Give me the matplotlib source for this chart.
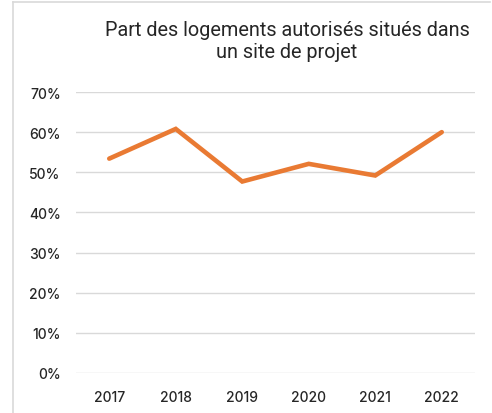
import matplotlib.pyplot as plt
from matplotlib.lines import Line2D
from matplotlib.ticker import PercentFormatter

# Share of authorised housing units located in a project site
years = ['2017', '2018', '2019', '2020', '2021', '2022']
share = [0.534, 0.608, 0.477, 0.521, 0.492, 0.600]
yticks = [0.0, 0.1, 0.2, 0.3, 0.4, 0.5, 0.6, 0.7]

title = 'Part des logements autorisés situés dans\nun site de projet'

fig = plt.figure(figsize=(4.92, 4.14), dpi=100)
ax = fig.add_axes([76 / 492, 1 - 374 / 414, 399 / 492, 281 / 414])

ax.plot(range(len(years)), share, color='#E97A33', linewidth=3.3,
        solid_capstyle='round', solid_joinstyle='miter', zorder=3)

ax.set_xlim(-0.5, len(years) - 0.5)
ax.set_ylim(0, 0.7)
ax.set_yticks(yticks)
ax.yaxis.set_major_formatter(PercentFormatter(1.0, decimals=0))
ax.set_xticks(range(len(years)))
ax.set_xticklabels(years)
ax.grid(axis='y', color='#d9d9d9', linewidth=1.0)
ax.set_axisbelow(True)
for s in ax.spines.values():
    s.set_visible(False)
ax.tick_params(length=0, labelsize=10, labelcolor='#262626')
ax.tick_params(axis='y', pad=11)
ax.tick_params(axis='x', pad=12)
for lab in ax.get_xticklabels() + ax.get_yticklabels():
    lab.set_family('Inter')
    lab.set_fontweight('medium')

fig.text(287 / 492, 1 - 42 / 414, title, ha='center', va='center',
         fontsize=14.3, family='Roboto', color='#262626', linespacing=1.2)

# light frame on top and left
fig.add_artist(Line2D([13 / 492, 13 / 492], [0, 1 - 3 / 414], transform=fig.transFigure,
                      color='#d9d9d9', linewidth=1.2))
fig.add_artist(Line2D([13 / 492, 490 / 492], [1 - 3 / 414, 1 - 3 / 414], transform=fig.transFigure,
                      color='#d9d9d9', linewidth=1.2))

fig.savefig('out.png', dpi=100)
